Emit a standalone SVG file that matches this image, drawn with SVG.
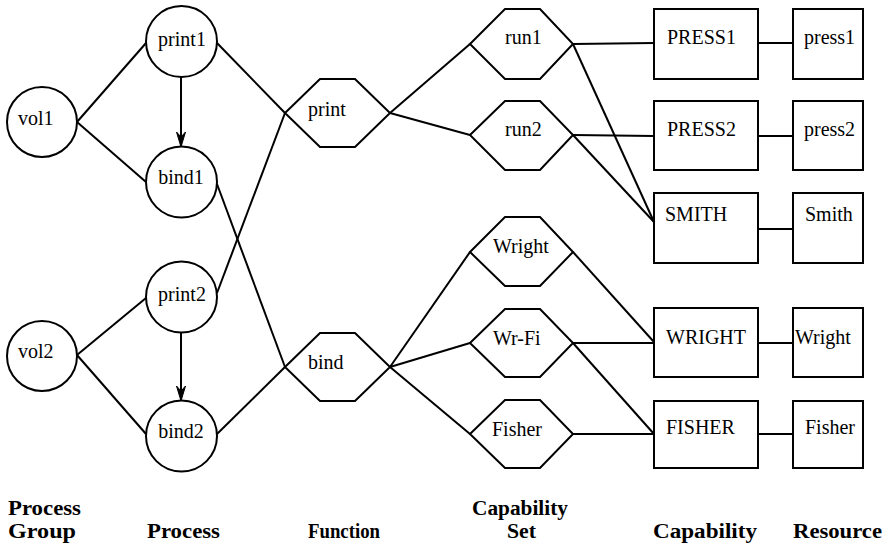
<svg xmlns="http://www.w3.org/2000/svg" width="888" height="546" viewBox="0 0 888 546">
<style>
.n{fill:#fff;stroke:#000;stroke-width:2}
text{font-family:'Liberation Serif','Times New Roman','DejaVu Serif',serif;fill:#000}
.t{font-size:20px}
.l{font-size:20px;font-weight:bold}
.c line{stroke:#000;stroke-width:2}
</style>
<defs>
<marker id="ah" markerWidth="16" markerHeight="10" refX="15" refY="5" orient="auto" markerUnits="userSpaceOnUse">
<path d="M15,5 L0,0.5 L5,5 L0,9.5 Z" fill="#000" stroke="#000" stroke-width="1"/>
</marker>
</defs>
<rect width="888" height="546" fill="#fff"/>
<g id="connectors" class="c">
<line x1="77" y1="122" x2="146" y2="43"/>
<line x1="77" y1="122" x2="146" y2="182"/>
<line x1="77" y1="355" x2="146" y2="298"/>
<line x1="77" y1="355" x2="146" y2="434"/>
<line x1="181" y1="77" x2="181" y2="147" marker-end="url(#ah)"/>
<line x1="181" y1="332" x2="181" y2="401" marker-end="url(#ah)"/>
<line x1="217" y1="43" x2="285" y2="113"/>
<line x1="217" y1="184" x2="285" y2="367"/>
<line x1="217" y1="293" x2="285" y2="113"/>
<line x1="217" y1="434" x2="285" y2="367"/>
<line x1="390" y1="113" x2="470" y2="44"/>
<line x1="390" y1="113" x2="470" y2="135"/>
<line x1="390" y1="367" x2="470" y2="252"/>
<line x1="390" y1="367" x2="470" y2="343"/>
<line x1="390" y1="367" x2="470" y2="434"/>
<line x1="573" y1="44" x2="654" y2="43"/>
<line x1="573" y1="44" x2="654" y2="222"/>
<line x1="573" y1="135" x2="654" y2="136"/>
<line x1="573" y1="135" x2="654" y2="222"/>
<line x1="573" y1="252" x2="654" y2="342"/>
<line x1="573" y1="343" x2="654" y2="343"/>
<line x1="573" y1="343" x2="654" y2="434"/>
<line x1="573" y1="434" x2="654" y2="434"/>
<line x1="758" y1="43" x2="793" y2="43"/>
<line x1="758" y1="136" x2="793" y2="136"/>
<line x1="758" y1="229" x2="793" y2="229"/>
<line x1="758" y1="343" x2="793" y2="343"/>
<line x1="758" y1="434" x2="793" y2="434"/>
</g>
<g id="vol1"><circle class="n" cx="42" cy="122" r="35"/><text class="t" x="18" y="125">vol1</text></g>
<g id="vol2"><circle class="n" cx="42" cy="356" r="35"/><text class="t" x="18" y="358">vol2</text></g>
<g id="print1"><circle class="n" cx="181.5" cy="41.5" r="35.5"/><text class="t" x="182" y="46" text-anchor="middle">print1</text></g>
<g id="bind1"><circle class="n" cx="181.5" cy="182" r="35.5"/><text class="t" x="181" y="184" text-anchor="middle">bind1</text></g>
<g id="print2"><circle class="n" cx="181.5" cy="297" r="35.5"/><text class="t" x="182" y="301" text-anchor="middle">print2</text></g>
<g id="bind2"><circle class="n" cx="181.5" cy="436" r="35.5"/><text class="t" x="181" y="438" text-anchor="middle">bind2</text></g>
<g id="print"><polygon class="n" points="285,113 320,79 355,79 390,113 355,147 320,147"/><text class="t" x="308" y="116">print</text></g>
<g id="bind"><polygon class="n" points="285,367 320,333 355,333 390,367 355,401 320,401"/><text class="t" x="308" y="369">bind</text></g>
<g id="run1"><polygon class="n" points="470,44 505,9 540,9 573,44 540,79 505,79"/><text class="t" x="505" y="44">run1</text></g>
<g id="run2"><polygon class="n" points="470,135 505,101 540,101 573,135 540,170 505,170"/><text class="t" x="505" y="136">run2</text></g>
<g id="Wright-set"><polygon class="n" points="470,252 505,217 540,217 573,252 540,286 505,286"/><text class="t" x="493" y="253">Wright</text></g>
<g id="Wr-Fi"><polygon class="n" points="470,343 505,309 540,309 573,343 540,377 505,377"/><text class="t" x="493" y="345">Wr-Fi</text></g>
<g id="Fisher-set"><polygon class="n" points="470,434 505,400 540,400 573,434 540,468 505,468"/><text class="t" x="492" y="436">Fisher</text></g>
<g id="PRESS1"><rect class="n" x="654" y="9" width="104" height="70"/><text class="t" x="667" y="44">PRESS1</text></g>
<g id="PRESS2"><rect class="n" x="654" y="101" width="104" height="69"/><text class="t" x="667" y="136">PRESS2</text></g>
<g id="SMITH"><rect class="n" x="654" y="193" width="104" height="70"/><text class="t" x="665" y="221">SMITH</text></g>
<g id="WRIGHT"><rect class="n" x="654" y="308" width="104" height="69"/><text class="t" x="666" y="344">WRIGHT</text></g>
<g id="FISHER"><rect class="n" x="654" y="401" width="104" height="67"/><text class="t" x="666" y="434">FISHER</text></g>
<g id="press1"><rect class="n" x="793" y="9" width="70" height="70"/><text class="t" x="804" y="44">press1</text></g>
<g id="press2"><rect class="n" x="793" y="101" width="70" height="69"/><text class="t" x="804" y="136">press2</text></g>
<g id="Smith"><rect class="n" x="793" y="193" width="70" height="70"/><text class="t" x="805" y="221">Smith</text></g>
<g id="Wright-res"><rect class="n" x="793" y="308" width="70" height="69"/><text class="t" x="795" y="344">Wright</text></g>
<g id="Fisher-res"><rect class="n" x="793" y="401" width="70" height="67"/><text class="t" x="805" y="434">Fisher</text></g>
<g id="labels">
<text class="l" x="8" y="515" textLength="73" lengthAdjust="spacingAndGlyphs">Process</text>
<text class="l" x="8" y="538" textLength="68" lengthAdjust="spacingAndGlyphs">Group</text>
<text class="l" x="147" y="538" textLength="73" lengthAdjust="spacingAndGlyphs">Process</text>
<text class="l" x="308" y="538" textLength="72" lengthAdjust="spacingAndGlyphs">Function</text>
<text class="l" x="472" y="515" textLength="96" lengthAdjust="spacingAndGlyphs">Capability</text>
<text class="l" x="507" y="538" textLength="29" lengthAdjust="spacingAndGlyphs">Set</text>
<text class="l" x="653" y="538" textLength="104" lengthAdjust="spacingAndGlyphs">Capability</text>
<text class="l" x="793" y="538" textLength="89" lengthAdjust="spacingAndGlyphs">Resource</text>
</g>
</svg>
